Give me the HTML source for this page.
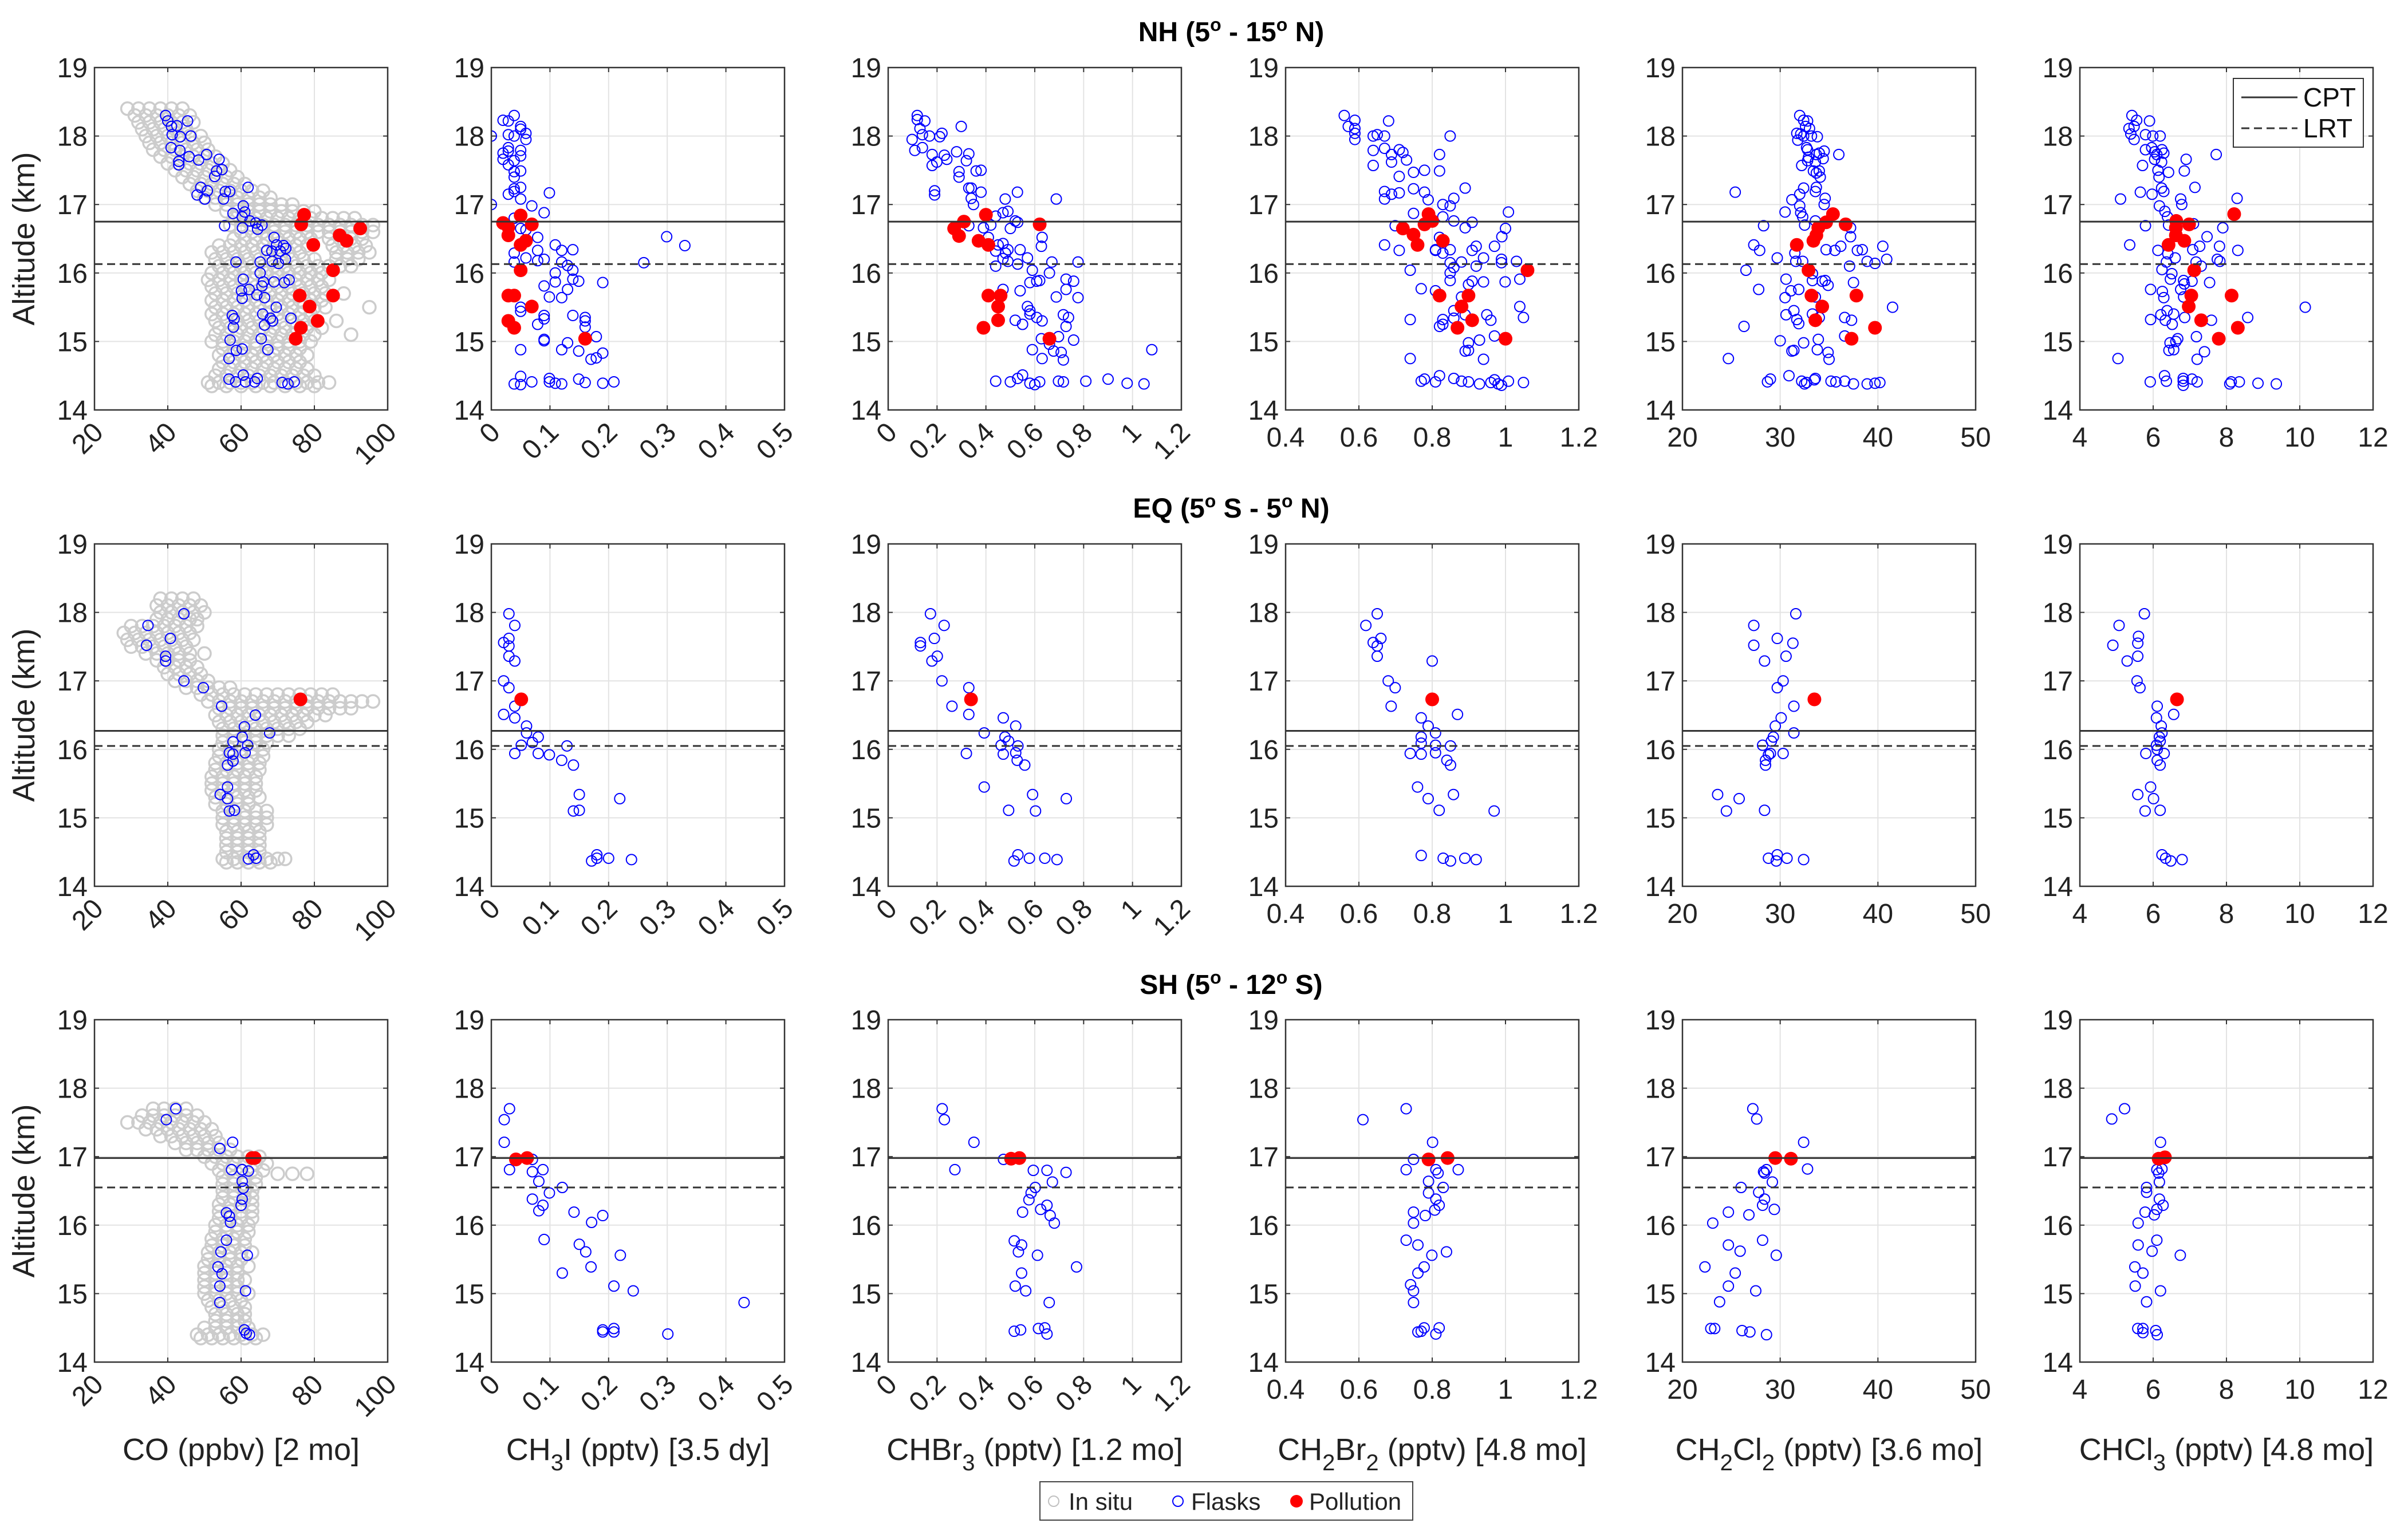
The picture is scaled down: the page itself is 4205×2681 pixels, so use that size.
<!DOCTYPE html>
<html><head><meta charset="utf-8"><style>
html,body{margin:0;padding:0;background:#fff;}
svg{display:block;font-family:"Liberation Sans",Arial,sans-serif;}
</style></head><body>
<svg id="fig" xmlns="http://www.w3.org/2000/svg" width="4205" height="2681" viewBox="0 0 4205 2681">
<rect x="0" y="0" width="4205" height="2681" fill="#fff"/>
<g id="titles" fill="#000" font-weight="bold" font-size="48" text-anchor="middle">
 <text x="2150" y="72">NH (5<tspan dy="-18" font-size="32">o</tspan><tspan dy="18"> - 15</tspan><tspan dy="-18" font-size="32">o</tspan><tspan dy="18"> N)</tspan></text>
 <text x="2150" y="904">EQ (5<tspan dy="-18" font-size="32">o</tspan><tspan dy="18"> S - 5</tspan><tspan dy="-18" font-size="32">o</tspan><tspan dy="18"> N)</tspan></text>
 <text x="2150" y="1736">SH (5<tspan dy="-18" font-size="32">o</tspan><tspan dy="18"> - 12</tspan><tspan dy="-18" font-size="32">o</tspan><tspan dy="18"> S)</tspan></text>
</g>
<g id="xlabels" fill="#222" font-size="54" text-anchor="middle">
 <text x="421" y="2550">CO (ppbv)  [2 mo]</text>
 <text x="1114" y="2550">CH<tspan dy="18" font-size="40">3</tspan><tspan dy="-18">I (pptv) [3.5 dy]</tspan></text>
 <text x="1807" y="2550">CHBr<tspan dy="18" font-size="40">3</tspan><tspan dy="-18"> (pptv) [1.2 mo]</tspan></text>
 <text x="2501" y="2550">CH<tspan dy="18" font-size="40">2</tspan><tspan dy="-18">Br</tspan><tspan dy="18" font-size="40">2</tspan><tspan dy="-18"> (pptv) [4.8 mo]</tspan></text>
 <text x="3194" y="2550">CH<tspan dy="18" font-size="40">2</tspan><tspan dy="-18">Cl</tspan><tspan dy="18" font-size="40">2</tspan><tspan dy="-18"> (pptv) [3.6 mo]</tspan></text>
 <text x="3888" y="2550">CHCl<tspan dy="18" font-size="40">3</tspan><tspan dy="-18"> (pptv) [4.8 mo]</tspan></text>
</g>
<g id="legend-bottom">
 <rect x="1816" y="2588" width="651" height="67" fill="#fff" stroke="#444" stroke-width="2"/>
 <circle cx="1840" cy="2622" r="9" fill="none" stroke="#c0c0c0" stroke-width="2"/>
 <text x="1866" y="2637" font-size="42" fill="#222">In situ</text>
 <circle cx="2057" cy="2622" r="9" fill="none" stroke="#0000ff" stroke-width="2"/>
 <text x="2080" y="2637" font-size="42" fill="#222">Flasks</text>
 <circle cx="2264" cy="2622" r="11" fill="#ff0000"/>
 <text x="2286" y="2637" font-size="42" fill="#222">Pollution</text>
</g>
<g id="panels"></g>
<g id="legend-trop">
 <rect x="3900" y="137" width="227" height="120" fill="#fff" stroke="#333" stroke-width="2"/>
 <line x1="3914" y1="170" x2="4012" y2="170" stroke="#333" stroke-width="3"/>
 <line x1="3914" y1="224" x2="4012" y2="224" stroke="#333" stroke-width="3" stroke-dasharray="14,8"/>
 <text x="4022" y="186" font-size="46" fill="#111">CPT</text>
 <text x="4022" y="240" font-size="46" fill="#111">LRT</text>
</g>
</svg>
<script>
const rowNames=['nh','eq','sh'];
const colNames=['co','ch3i','chbr3','ch2br2','ch2cl2','chcl3'];
const xRanges=[[20,100],[0,0.5],[0,1.2],[0.4,1.2],[20,50],[4,12]];
const xTicks=[[20,40,60,80,100],[0,0.1,0.2,0.3,0.4,0.5],[0,0.2,0.4,0.6,0.8,1,1.2],[0.4,0.6,0.8,1,1.2],[20,30,40,50],[4,6,8,10,12]];
const yTicks=[14,15,16,17,18,19];
const cptAlt=[16.75,16.27,16.98];
const lrtAlt=[16.13,16.05,16.55];

const nhInSitu=[[18.4,[29,32,35,38,41,44]],[18.3,[31,34,37,40,43,46]],[18.2,[32,35,38,41,44,47]],[18.1,[33,36,39,42,45]],[18.0,[34,37,40,43,46,49]],[17.9,[35,38,41,44,47,50]],[17.8,[36,39,42,45,48,51]],[17.7,[38,41,44,47,50,53]],[17.6,[40,43,46,49,52,55]],[17.5,[42,45,48,51,54,57]],[17.4,[44,47,50,53,56,59]],[17.3,[46,49,52,55,58,61]],[17.2,[48,51,54,57,60,63,66]],[17.1,[50,53,56,59,62,65,68]],[17.0,[53,56,59,62,65,68,71,74]],[16.9,[56,59,62,65,68,71,74,77,80]],[16.8,[58,61,64,67,70,73,76,79,82,85,88,91]],[16.7,[57,60,63,66,69,72,75,78,81,84,87,90,93,96]],[16.6,[60,63,66,69,72,75,78,81,84,87,90,93,96]],[16.5,[58,61,64,67,70,73,76,79,84,87,90,93]],[16.4,[54,57,60,63,66,69,72,75,78,85,88,91,94]],[16.3,[52,55,58,61,64,67,70,73,76,86,89,92,95]],[16.2,[53,56,59,62,65,68,71,74,77,80,86,89,92]],[16.1,[54,57,60,63,66,69,72,75,78,81,84,87,90]],[16.0,[52,55,58,61,64,67,70,73,76,79,82]],[15.9,[51,54,57,60,63,66,69,72,75,78,81,84]],[15.8,[52,55,58,61,64,67,70,73,76,79,82]],[15.7,[53,56,59,62,65,68,71,74,77,80,83,88]],[15.6,[52,55,58,61,64,67,70,73,76,79,82]],[15.5,[53,56,59,62,65,68,71,74,77,80,83,95]],[15.4,[52,55,58,61,64,67,70,73,76,79]],[15.3,[53,56,59,62,65,68,71,74,77,80,86]],[15.2,[54,57,60,63,66,69,72,75,78,82]],[15.1,[53,56,59,62,65,68,71,74,77,80,90]],[15.0,[52,55,58,61,64,67,70,73,76,79]],[14.9,[55,58,61,64,67,70,73,76]],[14.8,[54,57,60,63,66,69,72,75,78]],[14.7,[55,58,61,64,67,70,73,76]],[14.6,[54,57,60,63,66,69,72,75,78]],[14.5,[53,56,59,62,65,68,71,74,77,80]],[14.4,[51,54,57,60,63,66,69,72,75,78,81,84]],[14.35,[52,56,60,64,68,72,76,80]]];
const eqInSitu=[[18.2,[38,41,44,47]],[18.1,[37,40,43,46,49]],[18.0,[38,41,44,47,50]],[17.9,[37,40,43,46,48]],[17.8,[30,33,36,39,42,45,48]],[17.7,[28,31,34,37,40,43,46]],[17.6,[29,32,35,38,41,44,47]],[17.5,[30,33,36,39,42,45]],[17.4,[34,37,40,43,46,50]],[17.3,[37,40,43,46]],[17.2,[39,42,45,48]],[17.1,[40,43,46,49]],[17.0,[42,45,48,51]],[16.9,[45,48,51,54,57]],[16.8,[49,52,55,58,61,64,67,70,73,76,79,82,85]],[16.7,[51,54,57,60,63,66,69,72,75,78,81,84,87,90,93,96]],[16.6,[54,57,60,63,66,69,72,75,78,81,84,87,90]],[16.5,[53,56,59,62,65,68,71,74,77,80,83]],[16.4,[54,57,60,63,66,69,72,75,78]],[16.3,[55,58,61,64,67,70,73,76]],[16.2,[55,58,61,64,67,70,73]],[16.1,[55,58,61,64,67]],[16.0,[54,57,60,63,66]],[15.9,[54,57,60,63,66]],[15.8,[53,56,59,62,65]],[15.7,[53,56,59,62,65]],[15.6,[52,55,58,61,64]],[15.5,[52,55,58,61,64]],[15.4,[52,55,58,61,64]],[15.3,[53,56,59,62,65]],[15.2,[53,56,59,62]],[15.1,[55,58,61,64,67]],[15.0,[55,58,61,64,67]],[14.9,[55,58,61,64,67]],[14.8,[56,59,62,65]],[14.7,[56,59,62,65]],[14.6,[56,59,62,65]],[14.5,[56,59,62,65]],[14.4,[55,58,61,64,67,70,72]],[14.35,[56,59,62,65,68]]];
const shInSitu=[[17.7,[36,39,42,45]],[17.6,[33,36,39,42,45,48]],[17.5,[29,32,35,38,41,44,47,50]],[17.4,[34,37,40,43,46,49,52]],[17.3,[38,41,44,47,50,53]],[17.2,[42,45,48,51,54]],[17.1,[45,48,51,54,57]],[17.0,[50,53,56,59,62,65]],[16.9,[52,55,58,61,64,67]],[16.8,[54,57,60,63,66]],[16.75,[70,74,78]],[16.7,[55,58,61,64]],[16.6,[55,58,61,64]],[16.5,[55,58,61,63]],[16.4,[55,58,61,63]],[16.3,[54,57,60,63]],[16.2,[54,57,60,63]],[16.1,[54,57,60,63]],[16.0,[53,56,59,62]],[15.9,[53,56,59,62]],[15.8,[52,55,58,61]],[15.7,[52,55,58,61]],[15.6,[51,54,57,60,63]],[15.5,[51,54,57,60]],[15.4,[50,53,56,59,62]],[15.3,[50,53,56,59]],[15.2,[50,53,56,59,61]],[15.1,[50,53,56,59]],[15.0,[50,53,56,59,62]],[14.9,[51,54,57,60]],[14.8,[52,55,58,61]],[14.7,[53,56,59,61]],[14.6,[53,56,59,61]],[14.5,[50,53,56,59,62]],[14.4,[48,51,54,57,60,63,66]],[14.35,[49,52,55,58,61,64]]];

const nhFlaskCO=[[39.4,18.3],[40,18.22],[41,18.14],[42.5,18.15],[41.2,18.02],[43.4,17.99],[45.4,18.22],[46.3,18],[40.9,17.83],[43.3,17.79],[45.8,17.7],[43,17.63],[43,17.58],[48.4,17.65],[50.6,17.73],[54,17.66],[53.3,17.49],[54.8,17.51],[52.8,17.41],[49,17.25],[50.8,17.2],[48,17.14],[50.1,17.08],[55.7,17.19],[56.9,17.19],[55.2,17.08],[61.9,17.25],[60.6,16.98],[61,16.89],[57.8,16.87],[60.3,16.82],[62.4,16.76],[64,16.73],[65.7,16.7],[55.5,16.69],[60.4,16.66],[64.5,16.64],[69,16.52],[69.7,16.41],[71.6,16.4],[67,16.33],[68.4,16.32],[70.7,16.32],[72.2,16.36],[68.5,16.17],[70.2,16.14],[58.6,16.16],[65.2,16.16],[72.1,16.2],[65.2,16],[60.6,15.91],[69,15.87],[71.8,15.86],[73.1,15.9],[66.1,15.87],[65.7,15.81],[60.1,15.74],[62.2,15.76],[60.3,15.63],[64.3,15.68],[66.4,15.64],[69.6,15.5],[57.6,15.38],[58.1,15.33],[57.9,15.21],[65.9,15.4],[68,15.34],[68.6,15.3],[66.4,15.24],[73.6,15.34],[57,15.02],[65.5,15.04],[58.7,14.87],[60.3,14.89],[67.3,14.88],[56.7,14.75],[56.7,14.45],[58.5,14.41],[60.6,14.51],[61.2,14.41],[63.7,14.41],[64.4,14.46],[71.2,14.4],[72.8,14.38],[74.5,14.41]];
const nhPolCO=[[77.2,16.85],[76.4,16.71],[86.9,16.55],[88.8,16.47],[92.5,16.65],[79.7,16.41],[85.1,16.04],[76,15.67],[85.1,15.67],[78.7,15.51],[80.9,15.3],[76.3,15.2],[74.9,15.04]];
const nhFlaskCH3I=[[0,18],[0.02,18.23],[0.029,18.22],[0.039,18.3],[0.05,18.14],[0.05,18.1],[0.059,18.04],[0.059,17.95],[0.039,18],[0.029,18.02],[0.029,17.83],[0.02,17.75],[0.029,17.78],[0.02,17.66],[0.029,17.58],[0.039,17.64],[0.05,17.79],[0.05,17.71],[0.039,17.48],[0.05,17.49],[0.039,17.4],[0.039,17.23],[0.05,17.25],[0.029,17.15],[0.039,17.19],[0.05,17.08],[0,17],[0.099,17.17],[0.069,16.98],[0.09,16.88],[0.039,16.8],[0.059,16.63],[0.05,16.65],[0.109,16.41],[0.079,16.52],[0.139,16.34],[0.12,16.33],[0.079,16.33],[0.039,16.29],[0.059,16.22],[0.079,16.18],[0.09,16.2],[0.039,16.16],[0.12,16.16],[0.13,16.11],[0.26,16.15],[0.299,16.53],[0.33,16.4],[0.109,16],[0.139,16.04],[0.139,15.91],[0.149,15.88],[0.19,15.86],[0.09,15.81],[0.109,15.87],[0.13,15.76],[0.099,15.65],[0.12,15.64],[0.05,15.5],[0.05,15.44],[0.09,15.38],[0.09,15.33],[0.079,15.25],[0.139,15.38],[0.16,15.35],[0.16,15.3],[0.16,15.21],[0.179,15.07],[0.09,15.03],[0.09,15.01],[0.13,14.98],[0.12,14.88],[0.05,14.88],[0.149,14.86],[0.19,14.83],[0.179,14.76],[0.17,14.74],[0.039,14.38],[0.05,14.49],[0.05,14.37],[0.069,14.41],[0.099,14.46],[0.099,14.41],[0.109,14.39],[0.12,14.38],[0.149,14.45],[0.16,14.4],[0.19,14.39],[0.209,14.41]];
const nhPolCH3I=[[0.02,16.73],[0.029,16.67],[0.029,16.55],[0.05,16.84],[0.069,16.71],[0.059,16.47],[0.05,16.41],[0.05,16.04],[0.029,15.67],[0.039,15.67],[0.069,15.51],[0.029,15.3],[0.039,15.2],[0.16,15.04]];
const nhFlaskCHBr3=[[0.119,18.3],[0.119,18.24],[0.15,18.22],[0.13,18.11],[0.14,18.02],[0.169,18],[0.211,17.99],[0.22,18.04],[0.098,17.95],[0.109,17.79],[0.14,17.83],[0.18,17.73],[0.299,18.14],[0.28,17.77],[0.23,17.72],[0.24,17.66],[0.199,17.62],[0.18,17.57],[0.33,17.74],[0.32,17.64],[0.29,17.48],[0.29,17.4],[0.36,17.49],[0.38,17.5],[0.19,17.2],[0.19,17.14],[0.33,17.24],[0.34,17.24],[0.38,17.18],[0.34,17.09],[0.349,17],[0.479,17.08],[0.529,17.18],[0.688,17.08],[0.49,16.9],[0.47,16.88],[0.44,16.83],[0.42,16.7],[0.52,16.76],[0.53,16.74],[0.33,16.69],[0.39,16.66],[0.5,16.65],[0.63,16.52],[0.41,16.52],[0.627,16.39],[0.45,16.41],[0.47,16.43],[0.44,16.32],[0.49,16.34],[0.48,16.29],[0.54,16.34],[0.57,16.22],[0.47,16.21],[0.49,16.17],[0.53,16.13],[0.67,16.16],[0.777,16.16],[0.44,16.1],[0.59,16.04],[0.66,16],[0.728,15.91],[0.759,15.88],[0.58,15.86],[0.608,15.88],[0.62,15.89],[0.47,15.76],[0.728,15.76],[0.54,15.74],[0.688,15.65],[0.777,15.64],[0.57,15.51],[0.58,15.45],[0.58,15.4],[0.717,15.39],[0.738,15.35],[0.608,15.35],[0.52,15.31],[0.63,15.3],[0.55,15.25],[0.728,15.22],[0.627,15.04],[0.697,15.07],[0.759,15.02],[0.66,14.96],[0.59,14.88],[0.677,14.86],[0.708,14.84],[0.63,14.75],[0.717,14.73],[1.079,14.88],[0.44,14.42],[0.5,14.41],[0.53,14.46],[0.55,14.51],[0.58,14.39],[0.6,14.37],[0.62,14.41],[0.697,14.42],[0.717,14.41],[0.809,14.42],[0.9,14.45],[0.978,14.39],[1.047,14.38]];
const nhPolCHBr3=[[0.4,16.85],[0.31,16.75],[0.27,16.65],[0.29,16.54],[0.62,16.71],[0.37,16.47],[0.41,16.41],[0.41,15.67],[0.46,15.67],[0.45,15.51],[0.45,15.31],[0.39,15.2],[0.66,15.04]];
const nhFlaskCH2Br2=[[0.56,18.3],[0.571,18.14],[0.589,18.23],[0.589,18.11],[0.589,18.04],[0.589,17.95],[0.681,18.22],[0.639,18],[0.65,18.02],[0.67,18],[0.849,18],[0.639,17.79],[0.67,17.82],[0.689,17.73],[0.71,17.8],[0.72,17.76],[0.689,17.62],[0.73,17.65],[0.639,17.57],[0.82,17.73],[0.749,17.47],[0.779,17.5],[0.82,17.49],[0.71,17.41],[0.749,17.23],[0.779,17.18],[0.89,17.24],[0.67,17.19],[0.689,17.15],[0.71,17.17],[0.67,17.08],[0.789,17.07],[0.829,17],[0.849,16.98],[0.859,17.09],[0.749,16.87],[0.829,16.82],[1.008,16.89],[0.699,16.69],[0.859,16.76],[0.909,16.74],[0.89,16.66],[1,16.65],[0.99,16.53],[0.82,16.52],[0.67,16.41],[0.71,16.33],[0.809,16.34],[0.809,16.33],[0.829,16.29],[0.849,16.34],[0.97,16.39],[0.92,16.39],[0.909,16.33],[0.94,16.22],[0.989,16.2],[0.989,16.15],[1.03,16.17],[0.849,16.15],[0.859,16.08],[0.88,16.16],[0.92,16.1],[0.74,16.04],[0.849,16],[0.849,15.89],[0.909,15.88],[0.94,15.87],[0.999,15.87],[1.039,15.91],[0.899,15.83],[0.77,15.77],[0.809,15.74],[0.88,15.65],[1.039,15.51],[1.049,15.35],[0.74,15.32],[0.829,15.32],[0.859,15.45],[0.859,15.34],[0.89,15.39],[0.949,15.39],[0.96,15.31],[0.829,15.25],[0.82,15.22],[0.97,15.08],[0.899,14.98],[0.929,15.02],[0.89,14.86],[0.899,14.87],[0.74,14.75],[0.94,14.74],[0.77,14.42],[0.779,14.45],[0.809,14.41],[0.82,14.5],[0.859,14.46],[0.88,14.42],[0.899,14.41],[0.929,14.38],[0.96,14.4],[0.97,14.44],[0.98,14.38],[0.989,14.36],[1.008,14.42],[1.049,14.4]];
const nhPolCH2Br2=[[0.79,16.86],[0.779,16.71],[0.8,16.76],[0.72,16.65],[0.749,16.56],[0.76,16.41],[0.829,16.47],[1.06,16.04],[0.82,15.67],[0.899,15.67],[0.88,15.51],[0.909,15.31],[0.869,15.2],[1,15.04]];
const nhFlaskCH2Cl2=[[32,18.3],[32.4,18.23],[32.8,18.22],[32.6,18.14],[33,18.11],[31.7,18.04],[32.1,18.03],[32.4,18],[33.2,18],[33.8,17.99],[31.8,17.94],[32.7,17.83],[32.8,17.8],[34.5,17.78],[34,17.75],[33.7,17.73],[36,17.73],[32.9,17.69],[32.8,17.64],[33.6,17.62],[34.4,17.67],[32.2,17.57],[33.4,17.49],[34,17.49],[33.7,17.46],[34.1,17.4],[32.4,17.24],[33.7,17.25],[33.6,17.19],[32,17.15],[31.2,17.07],[34.6,17.09],[34.5,17],[32,16.98],[30.5,16.89],[32.1,16.88],[32.3,16.82],[33.6,16.76],[25.4,17.18],[28.3,16.69],[32.5,16.7],[37.2,16.66],[37.2,16.53],[27.3,16.41],[27.9,16.33],[31.5,16.29],[34.7,16.34],[35.6,16.33],[36.2,16.39],[37.9,16.33],[38.4,16.34],[40.5,16.39],[29.7,16.22],[31.6,16.17],[32.3,16.17],[38.9,16.17],[39.7,16.14],[40.9,16.2],[37.1,16.1],[26.5,16.04],[33.3,15.99],[30.6,15.91],[33.3,15.89],[34.3,15.88],[34.6,15.89],[34.9,15.82],[37.5,15.86],[27.8,15.76],[31.1,15.74],[31.9,15.76],[30.5,15.64],[33.6,15.65],[41.5,15.5],[31.4,15.45],[30.6,15.39],[33.3,15.4],[31.7,15.32],[31.9,15.26],[34,15.35],[36.6,15.35],[37.3,15.31],[26.3,15.22],[30,15.01],[32.4,14.98],[33.9,15.03],[36.6,15.08],[31.4,14.87],[31.2,14.86],[33.8,14.88],[34.9,14.84],[35,14.74],[24.7,14.75],[28.7,14.41],[29,14.45],[30.9,14.5],[32.2,14.42],[32.5,14.38],[32.7,14.4],[33.5,14.44],[33.6,14.46],[35.2,14.42],[35.7,14.41],[36.6,14.42],[37.5,14.38],[38.9,14.38],[39.7,14.39],[40.2,14.4]];
const nhPolCH2Cl2=[[35.4,16.86],[34.7,16.74],[33.9,16.66],[36.7,16.71],[33.7,16.55],[33.4,16.47],[31.7,16.41],[32.9,16.04],[33.2,15.67],[37.8,15.67],[34.3,15.51],[33.6,15.31],[39.7,15.2],[37.3,15.04]];
const nhFlaskCHCl3=[[5.42,18.3],[5.55,18.23],[5.34,18.11],[5.48,18.14],[5.39,18.03],[5.48,17.95],[5.79,18.02],[5.9,18.22],[5.99,18],[6.19,18],[5.96,17.83],[5.79,17.8],[6.04,17.77],[6.24,17.8],[6.29,17.75],[6.1,17.73],[6.04,17.66],[6.23,17.62],[7.72,17.73],[6.9,17.66],[5.71,17.57],[6.13,17.5],[6.42,17.47],[6.85,17.49],[6.16,17.4],[7.14,17.25],[6.23,17.24],[6.29,17.19],[5.65,17.18],[5.97,17.15],[5.11,17.08],[6.75,17.08],[8.29,17.09],[6.17,16.98],[6.78,17],[6.32,16.9],[6.39,16.82],[5.79,16.69],[6.42,16.7],[7.1,16.72],[7.9,16.66],[7.47,16.53],[5.36,16.41],[6.13,16.33],[6.4,16.28],[7.08,16.34],[7.27,16.39],[7.81,16.39],[8.31,16.33],[6.6,16.22],[6.36,16.16],[7.17,16.16],[7.31,16.1],[7.75,16.2],[7.82,16.17],[6.24,16.05],[6.51,15.99],[6.47,15.91],[6.83,15.89],[6.85,15.84],[7.06,15.88],[7.54,15.86],[5.93,15.76],[6.25,15.73],[6.75,15.76],[6.29,15.64],[6.83,15.65],[10.15,15.5],[6.38,15.45],[6.21,15.39],[6.56,15.4],[5.93,15.32],[6.33,15.31],[6.52,15.25],[6.86,15.35],[7.59,15.31],[8.58,15.35],[7.18,15.07],[6.67,15.04],[6.62,15],[6.46,14.98],[6.43,14.87],[6.56,14.88],[7.4,14.85],[7.2,14.74],[5.04,14.75],[5.92,14.41],[6.31,14.5],[6.36,14.42],[6.82,14.46],[6.82,14.42],[6.82,14.36],[7.06,14.45],[7.2,14.41],[8.09,14.38],[8.13,14.41],[8.35,14.41],[8.86,14.39],[9.36,14.38]];
const nhPolCHCl3=[[8.21,16.86],[6.63,16.76],[6.98,16.71],[6.62,16.66],[6.62,16.55],[6.85,16.47],[6.42,16.41],[7.12,16.04],[7.04,15.67],[8.14,15.67],[6.97,15.51],[7.31,15.31],[8.31,15.2],[7.79,15.04]];

const eqFlaskCO=[[44.4,17.98],[34.6,17.81],[40.7,17.62],[34.2,17.52],[39.4,17.36],[39.4,17.29],[44.4,17],[49.7,16.9],[54.7,16.63],[63.9,16.5],[60.9,16.33],[67.8,16.24],[60.3,16.18],[57.8,16.11],[61.8,16.06],[56.8,15.95],[57.8,15.93],[61.1,15.95],[56.3,15.77],[57.8,15.83],[56.3,15.45],[54.3,15.34],[56.3,15.28],[56.8,15.1],[58.2,15.11],[63.4,14.46],[62,14.4],[64.1,14.41]];
const eqPolCO=[[76.2,16.73]];
const eqFlaskCH3I=[[0.03,17.98],[0.04,17.81],[0.03,17.62],[0.021,17.56],[0.03,17.51],[0.03,17.36],[0.04,17.29],[0.021,17],[0.03,16.9],[0.04,16.63],[0.021,16.51],[0.04,16.46],[0.06,16.34],[0.06,16.24],[0.08,16.18],[0.07,16.1],[0.051,16.06],[0.129,16.05],[0.04,15.94],[0.08,15.94],[0.099,15.92],[0.12,15.84],[0.14,15.77],[0.15,15.34],[0.219,15.28],[0.14,15.1],[0.15,15.11],[0.18,14.46],[0.171,14.37],[0.18,14.41],[0.2,14.41],[0.239,14.39]];
const eqPolCH3I=[[0.051,16.73]];
const eqFlaskCHBr3=[[0.173,17.98],[0.229,17.81],[0.189,17.62],[0.132,17.56],[0.132,17.51],[0.201,17.36],[0.179,17.29],[0.22,17],[0.33,16.9],[0.261,16.63],[0.33,16.51],[0.471,16.46],[0.522,16.34],[0.393,16.24],[0.478,16.18],[0.493,16.12],[0.462,16.06],[0.531,16.05],[0.32,15.94],[0.471,15.93],[0.522,15.95],[0.528,15.84],[0.559,15.77],[0.393,15.45],[0.591,15.34],[0.729,15.28],[0.493,15.11],[0.603,15.1],[0.531,14.46],[0.515,14.37],[0.578,14.41],[0.641,14.41],[0.691,14.39]];
const eqPolCHBr3=[[0.339,16.73]];
const eqFlaskCH2Br2=[[0.65,17.98],[0.619,17.81],[0.66,17.62],[0.639,17.56],[0.65,17.51],[0.65,17.36],[0.8,17.29],[0.68,17],[0.699,16.9],[0.688,16.63],[0.869,16.51],[0.77,16.46],[0.789,16.34],[0.809,16.24],[0.77,16.18],[0.77,16.09],[0.809,16.06],[0.85,16.05],[0.74,15.94],[0.77,15.93],[0.809,15.95],[0.84,15.84],[0.85,15.77],[0.76,15.45],[0.789,15.28],[0.858,15.34],[0.819,15.11],[0.969,15.1],[0.77,14.45],[0.83,14.41],[0.85,14.37],[0.889,14.41],[0.92,14.39]];
const eqPolCH2Br2=[[0.8,16.73]];
const eqFlaskCH2Cl2=[[31.6,17.98],[27.3,17.81],[29.7,17.62],[27.3,17.52],[31.3,17.55],[30.6,17.36],[28.4,17.29],[30.3,17],[29.7,16.9],[31.4,16.63],[30.1,16.46],[29.5,16.34],[31.4,16.24],[29.3,16.18],[29.1,16.12],[28.2,16.06],[30.3,15.94],[29,15.94],[28.8,15.92],[28.5,15.84],[28.5,15.77],[23.6,15.34],[25.8,15.28],[24.5,15.1],[28.4,15.11],[29.7,14.46],[28.8,14.41],[29.6,14.37],[30.7,14.41],[32.4,14.39]];
const eqPolCH2Cl2=[[33.5,16.73]];
const eqFlaskCHCl3=[[5.76,17.98],[5.07,17.81],[5.6,17.65],[5.58,17.55],[4.9,17.52],[5.58,17.36],[5.29,17.29],[5.56,17],[5.64,16.9],[6.11,16.63],[6.56,16.51],[6.09,16.46],[6.22,16.34],[6.24,16.24],[6.17,16.18],[6.19,16.12],[6.09,16.06],[6.11,16],[5.8,15.94],[6.3,15.94],[6.11,15.84],[6.19,15.77],[5.93,15.45],[5.58,15.34],[6.01,15.28],[5.78,15.1],[6.19,15.11],[6.24,14.46],[6.34,14.41],[6.48,14.37],[6.79,14.39]];
const eqPolCHCl3=[[6.65,16.73]];

const shFlaskCO=[[42.2,17.7],[39.6,17.54],[57.7,17.21],[54.2,17.12],[57.4,16.81],[60.3,16.81],[62,16.79],[60.3,16.64],[60.6,16.54],[60.3,16.38],[60,16.29],[56,16.18],[56.8,16.13],[57.1,16.04],[56,15.78],[54.5,15.61],[61.7,15.56],[53.7,15.39],[54.8,15.29],[54.2,15.11],[61.2,15.04],[54.2,14.87],[60.9,14.47],[61.4,14.42],[62.3,14.4]];
const shPolCO=[[63.7,16.98],[63,16.98]];
const shFlaskCH3I=[[0.031,17.7],[0.022,17.54],[0.022,17.21],[0.07,16.96],[0.031,16.81],[0.07,16.78],[0.088,16.81],[0.081,16.64],[0.121,16.55],[0.099,16.47],[0.07,16.38],[0.088,16.29],[0.081,16.21],[0.141,16.19],[0.19,16.14],[0.171,16.04],[0.09,15.79],[0.15,15.72],[0.161,15.61],[0.22,15.56],[0.17,15.39],[0.121,15.3],[0.209,15.11],[0.242,15.04],[0.431,14.87],[0.19,14.47],[0.19,14.44],[0.209,14.49],[0.209,14.44],[0.301,14.41]];
const shPolCH3I=[[0.042,16.96],[0.061,16.98]];
const shFlaskCHBr3=[[0.221,17.7],[0.23,17.54],[0.351,17.21],[0.472,16.96],[0.273,16.81],[0.594,16.8],[0.65,16.8],[0.728,16.77],[0.672,16.63],[0.602,16.55],[0.585,16.47],[0.576,16.37],[0.65,16.29],[0.624,16.23],[0.55,16.19],[0.663,16.14],[0.68,16.03],[0.516,15.77],[0.546,15.71],[0.533,15.61],[0.611,15.56],[0.771,15.39],[0.546,15.3],[0.52,15.11],[0.563,15.04],[0.659,14.87],[0.516,14.45],[0.542,14.47],[0.615,14.49],[0.641,14.5],[0.65,14.41]];
const shPolCHBr3=[[0.503,16.97],[0.537,16.98]];
const shFlaskCH2Br2=[[0.729,17.7],[0.611,17.54],[0.801,17.21],[0.749,16.96],[0.729,16.81],[0.81,16.81],[0.816,16.76],[0.871,16.81],[0.79,16.64],[0.83,16.55],[0.79,16.47],[0.81,16.38],[0.819,16.29],[0.807,16.22],[0.749,16.19],[0.781,16.14],[0.749,16.03],[0.729,15.78],[0.761,15.71],[0.839,15.61],[0.799,15.56],[0.778,15.39],[0.761,15.3],[0.741,15.13],[0.749,15.04],[0.749,14.87],[0.761,14.44],[0.77,14.45],[0.778,14.5],[0.819,14.5],[0.81,14.41]];
const shPolCH2Br2=[[0.79,16.96],[0.842,16.98]];
const shFlaskCH2Cl2=[[27.2,17.7],[27.6,17.55],[32.4,17.21],[32.8,16.82],[28.3,16.78],[28.6,16.81],[28.4,16.76],[29.2,16.63],[26,16.55],[27.8,16.48],[28.4,16.38],[28.2,16.29],[29.4,16.23],[24.7,16.19],[26.8,16.15],[23.1,16.03],[28.2,15.78],[24.7,15.71],[25.9,15.62],[29.6,15.56],[22.3,15.39],[25.4,15.3],[24.7,15.11],[27.5,15.04],[23.8,14.88],[22.9,14.49],[23.3,14.49],[26.1,14.46],[26.9,14.44],[28.6,14.4]];
const shPolCH2Cl2=[[29.5,16.98],[31.1,16.97]];
const shFlaskCHCl3=[[5.22,17.7],[4.87,17.55],[6.2,17.21],[6.1,16.81],[6.24,16.82],[6.15,16.76],[6.17,16.63],[5.82,16.55],[5.82,16.48],[6.17,16.38],[6.27,16.29],[6.1,16.23],[5.78,16.19],[6.03,16.15],[5.59,16.03],[6.1,15.78],[5.59,15.71],[5.97,15.62],[6.74,15.56],[5.5,15.39],[5.72,15.3],[5.51,15.11],[6.2,15.04],[5.82,14.88],[5.58,14.49],[5.72,14.49],[5.72,14.43],[6.07,14.46],[6.11,14.4]];
const shPolCHCl3=[[6.15,16.97],[6.32,16.99]];

const inSitu=[nhInSitu,eqInSitu,shInSitu];
const flasks=[[nhFlaskCO,nhFlaskCH3I,nhFlaskCHBr3,nhFlaskCH2Br2,nhFlaskCH2Cl2,nhFlaskCHCl3],[eqFlaskCO,eqFlaskCH3I,eqFlaskCHBr3,eqFlaskCH2Br2,eqFlaskCH2Cl2,eqFlaskCHCl3],[shFlaskCO,shFlaskCH3I,shFlaskCHBr3,shFlaskCH2Br2,shFlaskCH2Cl2,shFlaskCHCl3]];
const pollution=[[nhPolCO,nhPolCH3I,nhPolCHBr3,nhPolCH2Br2,nhPolCH2Cl2,nhPolCHCl3],[eqPolCO,eqPolCH3I,eqPolCHBr3,eqPolCH2Br2,eqPolCH2Cl2,eqPolCHCl3],[shPolCO,shPolCH3I,shPolCHBr3,shPolCH2Br2,shPolCH2Cl2,shPolCHCl3]];

const NS='http://www.w3.org/2000/svg';
const PL=[165,858,1551,2245,2938,3632], PT=[118,950,1781], PW=512, PH=598;
function mk(tag,attrs,parent){const e=document.createElementNS(NS,tag);for(const k in attrs)e.setAttribute(k,attrs[k]);parent.appendChild(e);return e;}
function fmt(v){return String(+v.toFixed(2));}
const root=document.getElementById('panels');
for(let r=0;r<3;r++){
 for(let c=0;c<6;c++){
  const L=PL[c],T=PT[r],B=T+PH,R=L+PW;
  const [x0,x1]=xRanges[c];
  const sx=v=>L+(v-x0)/(x1-x0)*PW;
  const sy=a=>B-(a-14)/5*PH;
  const g=mk('g',{},root);
  
  
  mk('rect',{x:L,y:T,width:PW,height:PH,fill:'#fff'},g);
  const clip=mk('clipPath',{id:'clip'+r+c},g);
  mk('rect',{x:L,y:T,width:PW,height:PH},clip);
  xTicks[c].forEach(t=>{mk('line',{x1:sx(t),x2:sx(t),y1:T,y2:B,stroke:'#e3e3e3','stroke-width':2},g);});
  yTicks.forEach(t=>{mk('line',{x1:L,x2:R,y1:sy(t),y2:sy(t),stroke:'#e3e3e3','stroke-width':2},g);});
  const mg=mk('g',{'clip-path':'url(#clip'+r+c+')'},g);
  if(c===0){
   inSitu[r].forEach(([a,xs])=>xs.forEach(x=>{
    const e=mk('circle',{cx:sx(x),cy:sy(a),r:11,fill:'none',stroke:'#cccccc','stroke-width':3.5},mg);
    
    
   }));
  }
  flasks[r][c].forEach(([x,a])=>{
   const e=mk('circle',{cx:sx(x),cy:sy(a),r:9,fill:'none',stroke:'#0000ff','stroke-width':2},mg);
   
   
  });
  pollution[r][c].forEach(([x,a])=>{
   const e=mk('circle',{cx:sx(x),cy:sy(a),r:12,fill:'#ff0000'},mg);
   
   
  });
  const cl=mk('line',{x1:L,x2:R,y1:sy(cptAlt[r]),y2:sy(cptAlt[r]),stroke:'#333','stroke-width':3},g);
  
  
  const ll=mk('line',{x1:L,x2:R,y1:sy(lrtAlt[r]),y2:sy(lrtAlt[r]),stroke:'#333','stroke-width':3,'stroke-dasharray':'14,8'},g);
  
  
  xTicks[c].forEach(t=>{mk('line',{x1:sx(t),x2:sx(t),y1:B,y2:B-8,stroke:'#333','stroke-width':2},g);mk('line',{x1:sx(t),x2:sx(t),y1:T,y2:T+8,stroke:'#333','stroke-width':2},g);});
  yTicks.forEach(t=>{mk('line',{x1:L,x2:L+8,y1:sy(t),y2:sy(t),stroke:'#333','stroke-width':2},g);mk('line',{x1:R,x2:R-8,y1:sy(t),y2:sy(t),stroke:'#333','stroke-width':2},g);});
  const box=mk('rect',{x:L,y:T,width:PW,height:PH,fill:'none',stroke:'#333','stroke-width':2.5},g);
  
  
  yTicks.forEach(t=>{
   const e=mk('text',{x:L-12,y:sy(t)+17,'text-anchor':'end','font-size':48,fill:'#222'},g);
   e.textContent=String(t);
   
   
  });
  xTicks[c].forEach(t=>{
   let e;
   if(c<3){
    e=mk('text',{x:0,y:0,'text-anchor':'end','font-size':48,fill:'#222',transform:'translate('+(sx(t)+18)+','+(B+42)+') rotate(-45)'},g);
   } else {
    e=mk('text',{x:sx(t),y:B+64,'text-anchor':'middle','font-size':48,fill:'#222'},g);
   }
   e.textContent=fmt(t);
   
   
  });
  if(c===0){
   const yl=mk('text',{x:0,y:0,'text-anchor':'middle','font-size':54,fill:'#222',transform:'translate(60,'+(T+PH/2)+') rotate(-90)'},g);
   yl.textContent='Altitude (km)';
   
   
  }
 }
}
</script>
</body></html>
